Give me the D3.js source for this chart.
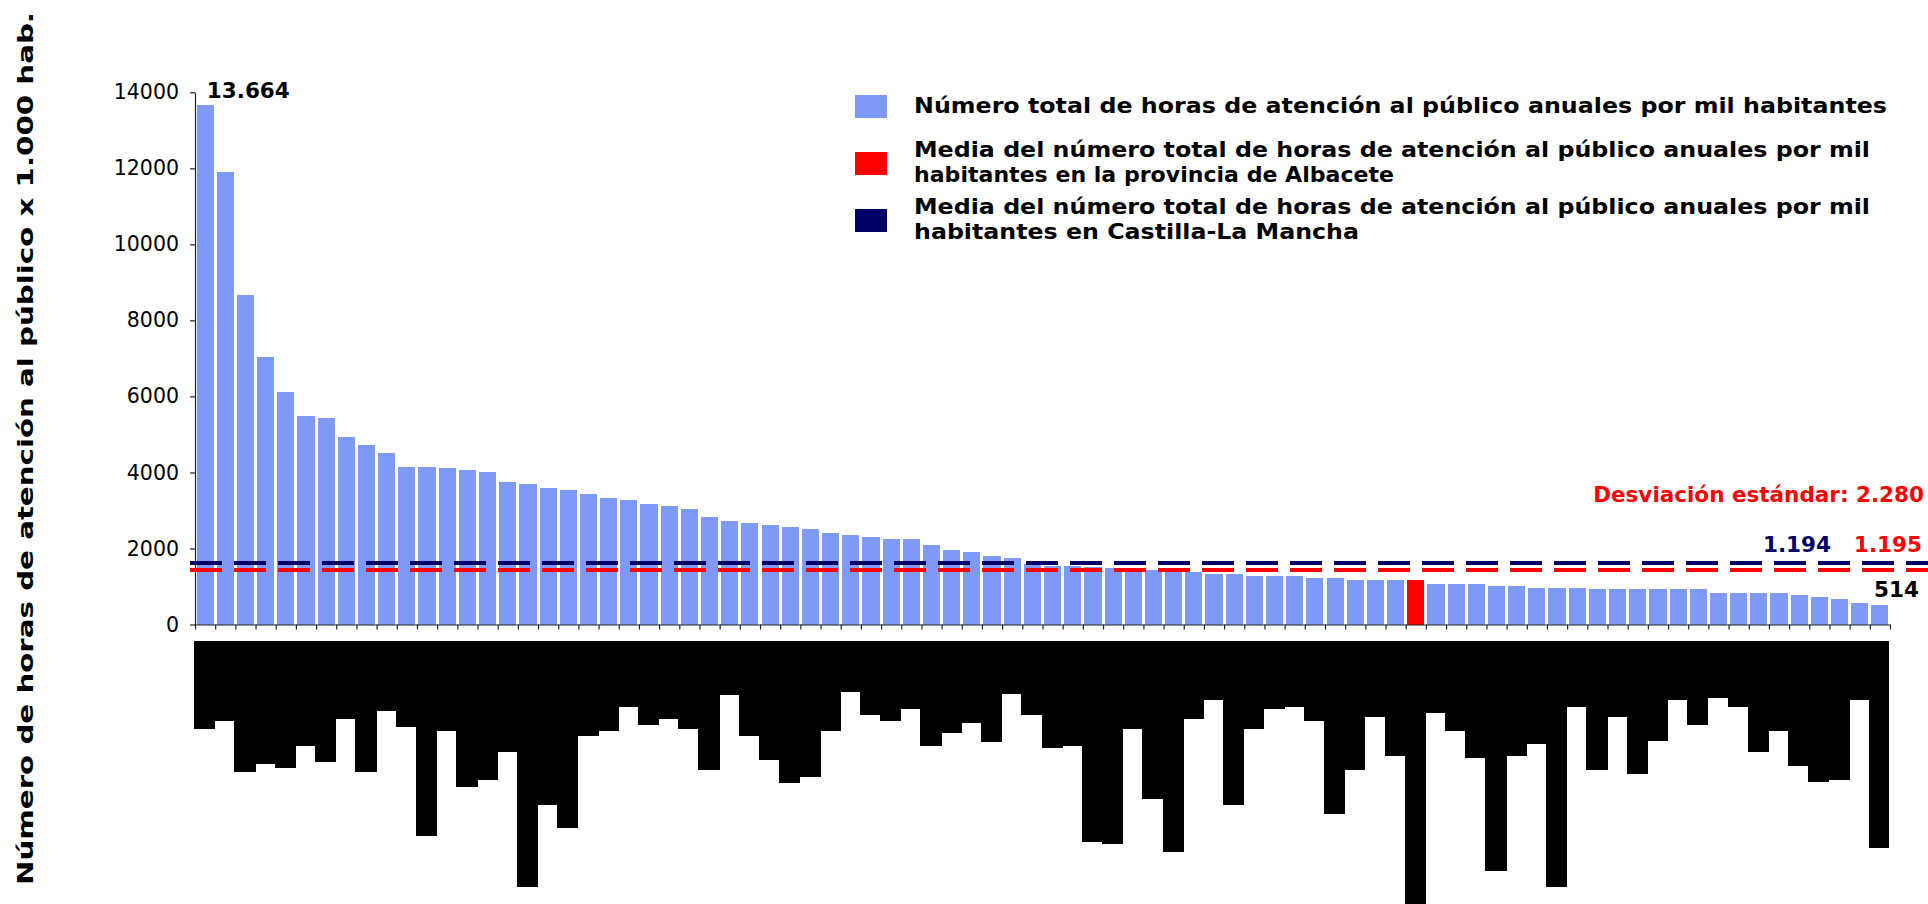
<!DOCTYPE html>
<html><head><meta charset="utf-8">
<script src="https://cdn.jsdelivr.net/npm/d3@7"></script>
<style>
body{margin:0;background:#fff}
svg{display:block}
text{font-family:Verdana,"DejaVu Sans",sans-serif}
</style>
</head><body>
<svg id="c" width="1928" height="904"></svg>
<script>
// ---- data ----
const values = [13664,11908,8671,7039,6118,5487,5434,4934,4724,4513,
  4145,4145,4118,4066,4013,3750,3697,3592,3539,3434,
  3329,3276,3171,3118,3039,2829,2724,2671,2618,2566,
  2513,2408,2355,2303,2250,2250,2092,1961,1908,1803,
  1750,1600,1539,1539,1510,1487,1460,1434,1410,1382,
  1329,1329,1276,1276,1276,1224,1224,1171,1171,1171,
  1180,1066,1066,1066,1013,1013,961,961,961,934,
  934,934,934,934,934,829,829,829,829,776,
  724,671,566,514];
// extent of the (unreadable, black) category labels under the axis
const labelExtent = [88,80,131,123,127,105,121,78,131,70,
  86,195,90,146,139,111,246,164,187,95,
  90,66,84,78,88,129,54,95,119,142,
  136,90,51,74,80,68,105,92,82,101,
  53,74,107,105,201,203,88,158,211,78,
  59,164,88,68,66,80,173,129,76,115,
  265,72,90,117,230,115,103,246,66,129,
  76,133,100,59,84,57,66,111,90,125,
  141,139,59,207];
const categories = values.map((d,i)=>i);
const highlightIndex = 60;
const provinceMean = 1434;   // drawn position of the Albacete mean line
const regionMean = 1618;     // drawn position of the Castilla-La Mancha mean line
const provinceMeanLabel = "1.195";
const regionMeanLabel = "1.194";
const stdLabel = "Desviación estándar: 2.280";
const maxLabel = "13.664";
const minLabel = "514";
const yTicks = [0,2000,4000,6000,8000,10000,12000,14000];
const yTitle = "Número de horas de atención al público x 1.000 hab.";
const legendItems = [
  {color:"#7f9af6", lines:["Número total de horas de atención al público anuales por mil habitantes"]},
  {color:"#ff0000", lines:["Media del número total de horas de atención al público anuales por mil","habitantes en la provincia de Albacete"]},
  {color:"#000066", lines:["Media del número total de horas de atención al público anuales por mil","habitantes en Castilla-La Mancha"]}
];

// ---- layout ----
const svg = d3.select("#c");
const X0 = 195, X1 = 1890, Y0 = 624.5, YTOP = 92.3;
const BAR = "#7f9af6", RED = "#ff0000", NAVY = "#000066";

const y = d3.scaleLinear().domain([0,14000]).range([Y0, YTOP]);
const x = d3.scaleBand().domain(categories).range([X0, X1]).paddingInner(0.15).paddingOuter(0.075);
const xi = d3.scaleLinear().domain([0, categories.length]).range([X0, X1]);
const hb = d3.scaleLinear().domain([0, 265]).range([0, 265]);

// black label blocks
svg.append("g").attr("shape-rendering","crispEdges").selectAll("rect").data(labelExtent).join("rect")
  .attr("x", (d,i)=>Math.round(xi(i)) - 1)
  .attr("width", (d,i)=>Math.round(xi(i+1)) - Math.round(xi(i)) + (i===labelExtent.length-1 ? 0 : 1))
  .attr("y", 641).attr("height", d=>Math.round(hb(d))).attr("fill","#000");

// bars
svg.append("g").attr("shape-rendering","crispEdges").selectAll("rect").data(values).join("rect")
  .attr("x", (d,i)=>x(i)).attr("width", x.bandwidth())
  .attr("y", d=>y(d)).attr("height", d=>Y0-y(d))
  .attr("fill", (d,i)=> i===highlightIndex ? RED : BAR);

// y axis
const ya = svg.append("g").attr("transform",`translate(${X0},0)`)
  .call(d3.axisLeft(y).tickValues(yTicks).tickFormat(d3.format("d")).tickSize(5).tickSizeOuter(0).tickPadding(11));
ya.select(".domain").attr("stroke","#222").attr("stroke-width",1.2);
ya.selectAll(".tick line").attr("stroke","#222").attr("stroke-width",1.2);
ya.selectAll(".tick text").attr("font-size","20.5px").attr("fill","#000")
  .style("font-family",'Verdana,"DejaVu Sans",sans-serif');

// x axis with boundary ticks
const xa = svg.append("g").attr("transform",`translate(0,${Y0})`)
  .call(d3.axisBottom(xi).tickValues(d3.range(categories.length+1)).tickFormat("").tickSize(5).tickSizeOuter(0));
xa.select(".domain").attr("stroke","#222").attr("stroke-width",1.2);
xa.selectAll(".tick line").attr("stroke","#222").attr("stroke-width",1.2);

// mean lines
[[regionMean, NAVY],[provinceMean, RED]].forEach(([v,c])=>{
  svg.append("line").attr("x1",190).attr("x2",1928)
    .attr("y1",y(v)).attr("y2",y(v))
    .attr("stroke",c).attr("stroke-width",4).attr("stroke-dasharray","32 12");
});

// annotations
function label(t, xx, yy, color, anchor, size){
  return svg.append("text").attr("x",xx).attr("y",yy).attr("fill",color)
    .attr("font-weight","bold").attr("font-size",size||"21.5px")
    .attr("text-anchor",anchor||"start").text(t);
}
label(maxLabel, x(0)+x.bandwidth()*0.6, y(values[0])-7, "#000");
label(minLabel, 1919, y(values[values.length-1])-8, "#000", "end");
label(stdLabel, 1924, 502, RED, "end");
label(regionMeanLabel, 1831, y(regionMean)-11, NAVY, "end");
label(provinceMeanLabel, 1922, y(regionMean)-11, RED, "end");

// y title
svg.append("text").attr("transform","translate(33,448.5) rotate(-90)")
  .attr("text-anchor","middle").attr("font-weight","bold").attr("font-size","21px")
  .attr("textLength",873).attr("lengthAdjust","spacingAndGlyphs").text(yTitle);

// legend
const legendWidths = [[973],[956,480],[956,445]];
const leg = svg.append("g");
legendItems.forEach((it,k)=>{
  leg.append("rect").attr("x",855).attr("y", k===0 ? 95 : 152 + (k-1)*57)
    .attr("width",32).attr("height",23).attr("fill",it.color);
  it.lines.forEach((ln,j)=>{
    const base = k===0 ? 113 : 157 + (k-1)*57 + j*25;
    leg.append("text").attr("x",914).attr("y",base).attr("font-weight","bold")
      .attr("font-size","22px").attr("fill","#000")
      .attr("textLength",legendWidths[k][j]).attr("lengthAdjust","spacingAndGlyphs").text(ln);
  });
});
</script>
</body></html>
